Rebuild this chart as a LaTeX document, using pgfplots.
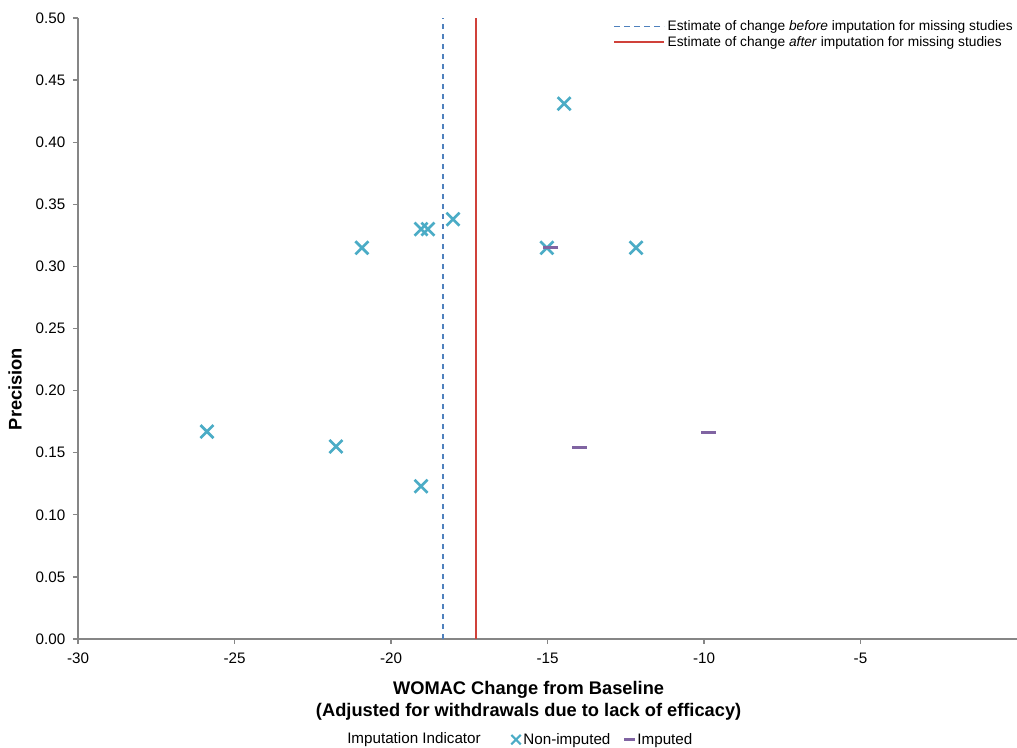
\documentclass[border=0pt]{standalone}
\usepackage{pgfplots}
\pgfplotsset{compat=1.18}
\usepackage{fontspec}
\setmainfont{Liberation Sans}
\definecolor{crossc}{HTML}{4BACC6}
\definecolor{impc}{HTML}{8064A2}
\definecolor{bluel}{HTML}{4F81BD}
\definecolor{redl}{HTML}{D0413A}
\definecolor{axc}{HTML}{868686}
\begin{document}
\begin{tikzpicture}
\useasboundingbox (-58.5pt,-81.75pt) rectangle (704.25pt,479.25pt);
\begin{axis}[
 name=ax,
 at={(0,0)}, anchor=south west,
 scale only axis, width=704.25pt, height=465.75pt,
 xmin=-30, xmax=0, ymin=0, ymax=0.5,
 axis x line*=bottom, axis y line*=left,
 axis line style={axc, line width=1.5pt, -},
 xtick={-30,-25,-20,-15,-10,-5},
 ytick={0,0.05,0.1,0.15,0.2,0.25,0.3,0.35,0.4,0.45,0.5},
 tick align=outside, major tick length=3.75pt, tick style={axc, line width=1pt},
 tick label style={font=\fontsize{11.4}{13}\selectfont},
 /pgf/number format/assume math mode=true,
 yticklabel style={xshift=-2.25pt, /pgf/number format/.cd, fixed, fixed zerofill, precision=2},
 xticklabel style={yshift=-3pt, /pgf/number format/.cd, fixed},
 scaled y ticks=false, scaled x ticks=false,
 xlabel={WOMAC Change from Baseline\\(Adjusted for withdrawals due to lack of efficacy)},
 xlabel style={font=\bfseries\fontsize{13.7}{16.5}\selectfont, align=center, at={(axis description cs:0.4799,0)}, anchor=center, yshift=-46.5pt},
 ylabel={Precision},
 ylabel style={font=\bfseries\fontsize{13.7}{16.5}\selectfont, at={(axis description cs:-0.0671,0.4026)}, anchor=center},
 legend style={at={(axis description cs:1,1)}, anchor=north east, yshift=1.5pt, draw=none, fill=none, font=\fontsize{10.3}{12}\selectfont, row sep=-1pt, inner sep=1pt},
 legend cell align=left,
 legend image code/.code={\draw[#1] (0pt,0pt) -- (37.5pt,0pt);},
 clip=false,
]
\addplot[bluel, line width=1.1pt, dash pattern=on 4pt off 3.5pt] coordinates {(-18.34,0) (-18.34,0.5)};
\addlegendentry{Estimate of change \textit{before} imputation for missing studies}
\addplot[redl, line width=1.1pt] coordinates {(-17.28,0) (-17.28,0.5)};
\addlegendentry{Estimate of change \textit{after} imputation for missing studies}
\addplot[only marks, mark=x, mark size=6.9pt, crossc, line width=2pt, forget plot] coordinates {
(-25.88,0.167) (-21.76,0.155) (-20.93,0.315) (-19.04,0.123) (-19.04,0.330)
(-18.82,0.330) (-18.02,0.338) (-15.02,0.315) (-14.47,0.431) (-12.17,0.315)};
\addplot[only marks, mark=-, mark size=5.6pt, impc, line width=2.5pt, forget plot] coordinates {
(-14.89,0.315) (-13.99,0.154) (-9.87,0.166)};
\end{axis}
\node[font=\fontsize{11.4}{13}\selectfont, anchor=center] at (252pt,-75.5pt) {Imputation Indicator};
\begin{axis}[
 at={(0,0)}, anchor=south west,
 scale only axis, width=704.25pt, height=465.75pt,
 hide axis, xmin=0, xmax=1, ymin=0, ymax=1,
 legend columns=-1,
 legend style={at={(axis description cs:0.4612,-0.1621)}, anchor=west, draw=none, fill=none, font=\fontsize{11.4}{13}\selectfont, inner sep=0pt, /tikz/every even column/.append style={column sep=8.25pt}},
 legend image code/.code={\draw[#1] plot coordinates {(0pt,0pt)};},
]
\addlegendimage{only marks, mark=x, mark size=5pt, crossc, line width=1.6pt}
\addlegendentry{Non-imputed}
\addlegendimage{only marks, mark=-, mark size=4pt, impc, line width=2pt}
\addlegendentry{Imputed}
\end{axis}
\end{tikzpicture}
\end{document}
